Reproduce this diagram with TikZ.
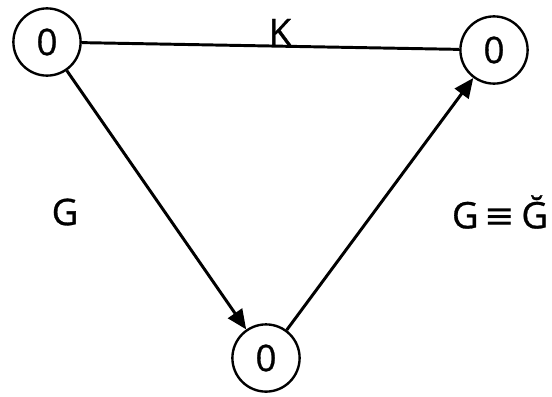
\documentclass[tikz,border=0pt]{standalone}
\usepackage{fontspec}
\setmainfont{Open Sans}
\newfontfamily\lblfont{Open Sans}[FakeBold=0.8]
\newfontfamily\symfont{DejaVu Sans}
\usepackage{tikz}
\usetikzlibrary{arrows.meta,calc}

\begin{document}
\begin{tikzpicture}[x=0.025cm,y=-0.025cm,
    state/.style={draw,circle,line width=1.7pt,minimum size=1.68cm,inner sep=0pt,
        font=\lblfont\fontsize{26}{30}\selectfont},
    lbl/.style={font=\lblfont\fontsize{26}{30}\selectfont},
    edge/.style={line width=2.1pt},
    >={Triangle[length=14pt,width=12pt]}]
    \useasboundingbox (0,0) rectangle (552,396);

    \node [state] (s0) at (47,42) { 0 };
    \node [state] (s1) at (494,50) { 0 };
    \node [state] (s2) at (266,358) { 0 };

    \node [lbl] (k) at (280,32) { K };
    \node [lbl] (g) at (65,212) { G };
    \node [lbl] (gg) at (500,212) { G\,{\symfont ≡}\,Ğ };

    \draw [edge] (s0) -- (s1);
    \draw [edge,->] (s0) -- (s2);
    \draw [edge,->] (s2) -- (s1);
\end{tikzpicture}
\end{document}
